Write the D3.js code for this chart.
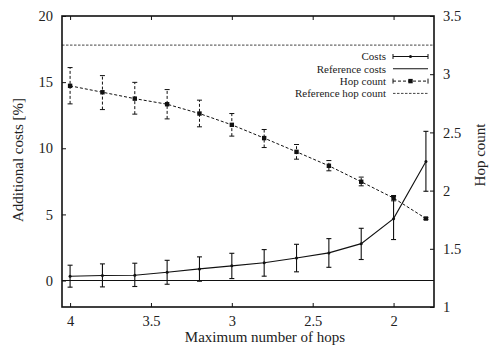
<!DOCTYPE html>
<html><head><meta charset="utf-8">
<script src="https://cdn.jsdelivr.net/npm/d3@7"></script>
<style>body{margin:0;background:#fff}svg{display:block}</style>
</head><body><svg id="c" width="492" height="350"></svg>
<script>
const maxHops = [4, 3.8, 3.6, 3.4, 3.2, 3.0, 2.8, 2.6, 2.4, 2.2, 2.0, 1.8];
const costs    = [0.33, 0.38, 0.40, 0.63, 0.88, 1.11, 1.34, 1.71, 2.09, 2.79, 4.68, 9.0];
const costsLo  = [-0.50, -0.48, -0.45, -0.28, -0.05, 0.15, 0.33, 0.66, 1.00, 1.59, 3.10, 6.75];
const costsHi  = [1.16, 1.26, 1.31, 1.53, 1.79, 2.06, 2.34, 2.74, 3.17, 3.95, 6.37, 11.28];
const hops     = [2.90, 2.845, 2.79, 2.742, 2.662, 2.565, 2.451, 2.333, 2.213, 2.076, 1.936, 1.76];
const hopsLo   = [2.745, 2.696, 2.657, 2.616, 2.548, 2.468, 2.37, 2.27, 2.17, 2.041, 1.912, 1.752];
const hopsHi   = [3.057, 2.988, 2.93, 2.868, 2.777, 2.662, 2.525, 2.396, 2.258, 2.116, 1.958, 1.768];
const refCost = 0;
const refHops = 3.25;
const xTicks = [4, 3.5, 3, 2.5, 2];
const yTicks = [0, 5, 10, 15, 20];
const y2Ticks = [1, 1.5, 2, 2.5, 3, 3.5];
const legendLabels = ["Costs", "Reference costs", "Hop count", "Reference hop count"];

const FONT = "'Liberation Serif', 'Times New Roman', Tinos, Times, serif";
const svg = d3.select("#c").attr("font-family", FONT);
const L = 62, R = 434, T = 16, B = 307;
const x = d3.scaleLinear().domain([4.05, 1.75]).range([L, R]);
const y = d3.scaleLinear().domain([-2, 20]).range([B, T]);
const y2 = d3.scaleLinear().domain([1, 3.5]).range([B, T]);
const ink = "#111";
const txt = "#222";

svg.append("defs").append("clipPath").attr("id","pc").append("rect")
  .attr("x", L).attr("y", T).attr("width", R-L).attr("height", B-T);
const g = svg.append("g").attr("clip-path","url(#pc)");

// reference lines
g.append("line").attr("x1", L).attr("x2", R).attr("y1", y(refCost)).attr("y2", y(refCost))
  .attr("stroke", ink).attr("stroke-width", 1.1);
g.append("line").attr("x1", L).attr("x2", R).attr("y1", y2(refHops)).attr("y2", y2(refHops))
  .attr("stroke", "#444").attr("stroke-width", 1).attr("stroke-dasharray", "2.5,1.5");

// hop count series
const hopLine = d3.line().x((d,i)=>x(maxHops[i])).y(d=>y2(d));
g.append("path").attr("d", hopLine(hops)).attr("fill","none").attr("stroke", ink)
  .attr("stroke-width", 1).attr("stroke-dasharray", "3,2");
hops.forEach((v,i)=>{
  const cx = x(maxHops[i]);
  g.append("line").attr("x1",cx).attr("x2",cx).attr("y1",y2(hopsLo[i])).attr("y2",y2(hopsHi[i]))
    .attr("stroke",ink).attr("stroke-width",1).attr("stroke-dasharray","3,2");
  [hopsLo[i], hopsHi[i]].forEach(e=>g.append("line").attr("x1",cx-2.5).attr("x2",cx+2.5)
    .attr("y1",y2(e)).attr("y2",y2(e)).attr("stroke",ink).attr("stroke-width",1));
  g.append("rect").attr("x",cx-2.2).attr("y",y2(v)-2.2).attr("width",4.4).attr("height",4.4).attr("fill",ink);
});

// costs series
const costLine = d3.line().x((d,i)=>x(maxHops[i])).y(d=>y(d));
g.append("path").attr("d", costLine(costs)).attr("fill","none").attr("stroke", ink).attr("stroke-width", 1.1);
costs.forEach((v,i)=>{
  const cx = x(maxHops[i]);
  g.append("line").attr("x1",cx).attr("x2",cx).attr("y1",y(costsLo[i])).attr("y2",y(costsHi[i]))
    .attr("stroke",ink).attr("stroke-width",1.1);
  [costsLo[i], costsHi[i]].forEach(e=>g.append("line").attr("x1",cx-2.5).attr("x2",cx+2.5)
    .attr("y1",y(e)).attr("y2",y(e)).attr("stroke",ink).attr("stroke-width",1.1));
  g.append("circle").attr("cx",cx).attr("cy",y(v)).attr("r",1.5).attr("fill",ink);
});

// axes
const fs = 14.5;
const ax = svg.append("g");
ax.append("rect").attr("x",L).attr("y",T).attr("width",R-L).attr("height",B-T)
  .attr("fill","none").attr("stroke",ink).attr("stroke-width",1.6);
const axB = ax.append("g").attr("transform",`translate(0,${B})`)
  .call(d3.axisBottom(x).tickValues(xTicks).tickFormat(d3.format("")).tickSizeInner(-4).tickSizeOuter(0).tickPadding(9));
const axT = ax.append("g").attr("transform",`translate(0,${T})`)
  .call(d3.axisTop(x).tickValues(xTicks).tickFormat("").tickSizeInner(-4).tickSizeOuter(0));
const axL = ax.append("g").attr("transform",`translate(${L},0)`)
  .call(d3.axisLeft(y).tickValues(yTicks).tickSizeInner(-4).tickSizeOuter(0).tickPadding(9));
const axR = ax.append("g").attr("transform",`translate(${R},0)`)
  .call(d3.axisRight(y2).tickValues(y2Ticks).tickFormat(d3.format("")).tickSizeInner(-4).tickSizeOuter(0).tickPadding(9));
[axB, axT, axL, axR].forEach(a=>{
  a.attr("font-family", FONT).attr("font-size", fs);
  a.select(".domain").remove();
  a.selectAll(".tick line").attr("stroke",ink).attr("stroke-width",1);
  a.selectAll("text").attr("fill",txt).attr("font-family", FONT).attr("font-size", fs);
});

// titles
const title = (sel)=>sel.attr("font-family",FONT).attr("font-size",15).attr("fill",txt).attr("text-anchor","middle");
svg.append("text").attr("x",265).attr("y",342).call(title).text("Maximum number of hops");
svg.append("text").attr("transform","translate(23,160) rotate(-90)").call(title).text("Additional costs [%]");
svg.append("text").attr("transform","translate(485,155) rotate(-90)").call(title).text("Hop count");

// legend
const lg = svg.append("g");
const rowY = [56.5, 68.8, 81.1, 93.4];
const sx1 = 393, sx2 = 428;
legendLabels.forEach((t,i)=>{
  lg.append("text").attr("x",386).attr("y",rowY[i]+3.8).attr("text-anchor","end")
    .attr("font-family",FONT).attr("font-size",11).attr("fill",txt).text(t);
});
lg.append("line").attr("x1",sx1).attr("x2",sx2).attr("y1",rowY[0]).attr("y2",rowY[0]).attr("stroke",ink).attr("stroke-width",1.1);
[sx1,sx2].forEach(px=>lg.append("line").attr("x1",px).attr("x2",px).attr("y1",rowY[0]-2.5).attr("y2",rowY[0]+2.5).attr("stroke",ink));
lg.append("circle").attr("cx",(sx1+sx2)/2).attr("cy",rowY[0]).attr("r",1.5).attr("fill",ink);
lg.append("line").attr("x1",sx1).attr("x2",sx2).attr("y1",rowY[1]).attr("y2",rowY[1]).attr("stroke",ink).attr("stroke-width",1.1);
lg.append("line").attr("x1",sx1).attr("x2",sx2).attr("y1",rowY[2]).attr("y2",rowY[2]).attr("stroke",ink).attr("stroke-dasharray","3,2");
[sx1,sx2].forEach(px=>lg.append("line").attr("x1",px).attr("x2",px).attr("y1",rowY[2]-2.5).attr("y2",rowY[2]+2.5).attr("stroke",ink));
lg.append("rect").attr("x",(sx1+sx2)/2-2.2).attr("y",rowY[2]-2.2).attr("width",4.4).attr("height",4.4).attr("fill",ink);
lg.append("line").attr("x1",sx1).attr("x2",sx2).attr("y1",rowY[3]).attr("y2",rowY[3]).attr("stroke","#444").attr("stroke-dasharray","2.5,1.5");
</script></body></html>
